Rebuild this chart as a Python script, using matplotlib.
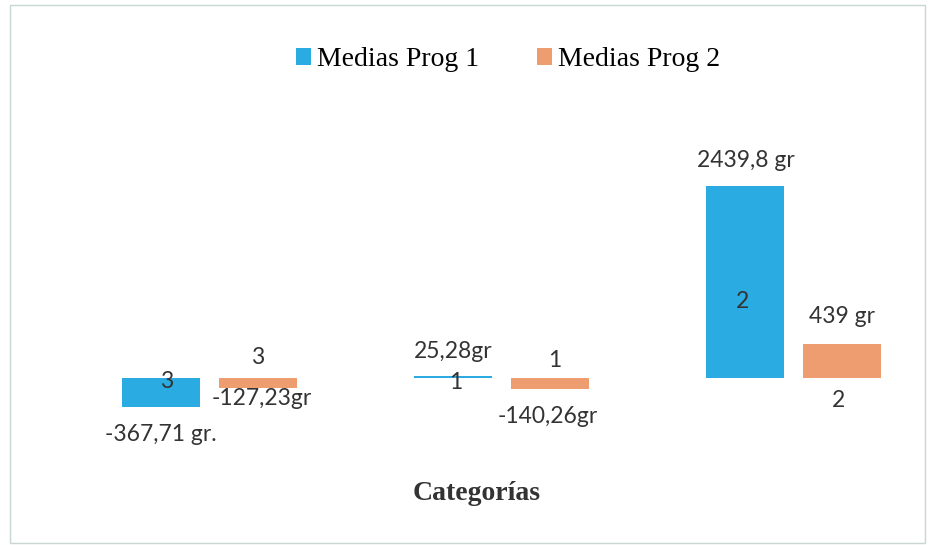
import matplotlib.pyplot as plt
from matplotlib.patches import Rectangle
import numpy as np

# categorias y medias de cada programa
categorias = ["3", "1", "2"]
medias_prog1 = [-367.71, 25.28, 2439.8]
medias_prog2 = [-127.23, -140.26, 439.0]
etiq_prog1 = ["-367,71 gr.", "25,28gr", "2439,8 gr"]
etiq_prog2 = ["-127,23gr", "-140,26gr", "439 gr"]
series = ["Medias Prog 1", "Medias Prog 2"]

azul = "#2aabe2"
naranja = "#ee9d70"
gris = "#333333"

# desplazamientos (px) de las etiquetas: (dx nombre, dy nombre desde la base,
# dx valor, dy valor desde el extremo de la barra)
off1 = [(6, -3, 0, -27), (3, -4, 0, 25), (-3, 77, 1, 26)]
off2 = [(0, 21, 4, -10), (5, 18, -2, -27), (-4, -22, 0, 27)]

fig = plt.figure(figsize=(9.3, 5.45), dpi=100)
ax = fig.add_axes([0, 88 / 545, 1, 315 / 545])

x = np.arange(len(categorias))
w = 0.267
d = 0.166
b1 = ax.bar(x - d, medias_prog1, w, color=azul, label=series[0])
b2 = ax.bar(x + d, medias_prog2, w, color=naranja, label=series[1])

ax.set_xlim(-0.717, 2.467)
ax.set_ylim(-1000, 3000)
ax.axis("off")

fnt = dict(family="Lato", fontsize=16.5, color=gris, ha="center", va="center")

for barras, vals, etiq, offs in [(b1, medias_prog1, etiq_prog1, off1),
                                  (b2, medias_prog2, etiq_prog2, off2)]:
    for i, (bar, v) in enumerate(zip(barras, vals)):
        xc = bar.get_x() + bar.get_width() / 2
        dxn, dyn, dxv, dyv = offs[i]
        ax.annotate(categorias[i], (xc, 0), xytext=(dxn, dyn),
                    textcoords="offset pixels", **fnt)
        ax.annotate(etiq[i], (xc, v), xytext=(dxv, dyv),
                    textcoords="offset pixels", **fnt)

fig.legend(loc="center", bbox_to_anchor=(508 / 930, 1 - 60 / 545), ncol=2,
           frameon=False, handlelength=0.55, handleheight=0.55, handletextpad=0.2,
           columnspacing=2.1, prop=dict(family="Liberation Serif", size=20))

fig.text(477 / 930, 1 - 493 / 545, "Categorías", family="Liberation Serif",
         fontweight="bold", fontsize=20, color=gris, ha="center", va="center")

# marco del grafico
fig.patches.append(Rectangle((10 / 930, 2 / 545), 915 / 930, 538 / 545,
                             transform=fig.transFigure, fill=False,
                             edgecolor="#c8d6d6", lw=1))

fig.savefig("out.png", dpi=100)
